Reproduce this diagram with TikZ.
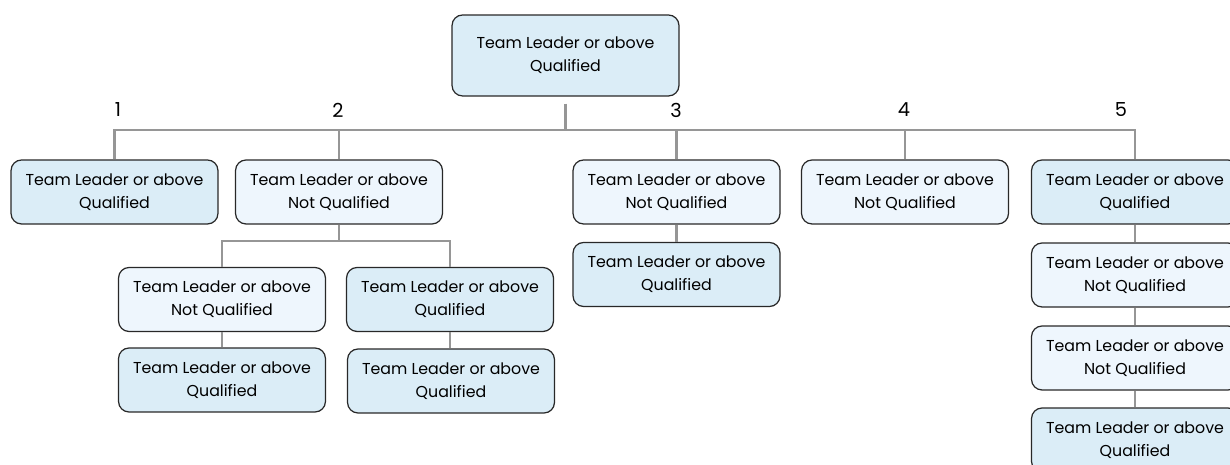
\documentclass[tikz,border=0pt]{standalone}
\usepackage{xcolor}
\usepackage{fontspec}
\setmainfont{Poppins}
\usepackage{tikz}
\definecolor{qualblue}{RGB}{219, 237, 247}
\definecolor{notqualblue}{RGB}{238, 246, 253}
\definecolor{boxline}{RGB}{40, 40, 40}
\definecolor{linkgray}{RGB}{150, 150, 150}

\begin{document}
\begin{tikzpicture}[x=0.02cm, y=-0.02cm,
    box/.style={draw=boxline, line width=0.7pt, rounded corners=6pt,
                minimum width=4.14cm, minimum height=1.28cm, inner sep=2pt,
                align=center, font=\fontsize{9}{13}\selectfont},
    qual/.style={box, fill=qualblue},
    notqual/.style={box, fill=notqualblue},
    link/.style={draw=linkgray, line width=1.3pt},
    num/.style={font=\fontsize{11}{13}\selectfont}]
  \useasboundingbox (0,0) rectangle (1230,465);

  % root
  \node[qual, minimum width=4.54cm, minimum height=1.62cm] (top) at (565.5,55.5)
    {Team Leader or above\\Qualified};

  % first row
  \node[qual]    (l1) at (114.5,192) {Team Leader or above\\Qualified};
  \node[notqual] (l2) at (339,192)   {Team Leader or above\\Not Qualified};
  \node[notqual] (l3) at (676.5,192) {Team Leader or above\\Not Qualified};
  \node[notqual] (l4) at (905,192)   {Team Leader or above\\Not Qualified};
  \node[qual]    (l5) at (1135,192)  {Team Leader or above\\Qualified};

  % under 2
  \node[notqual] (a1) at (222,299.5) {Team Leader or above\\Not Qualified};
  \node[qual]    (b1) at (450,299.5) {Team Leader or above\\Qualified};
  \node[qual]    (a2) at (222,380)   {Team Leader or above\\Qualified};
  \node[qual]    (b2) at (451,381)   {Team Leader or above\\Qualified};

  % under 3
  \node[qual] (c1) at (676.5,274.5) {Team Leader or above\\Qualified};

  % under 5
  \node[notqual] (e2) at (1135,275) {Team Leader or above\\Not Qualified};
  \node[notqual] (e3) at (1135,358) {Team Leader or above\\Not Qualified};
  \node[qual]    (e4) at (1135,440) {Team Leader or above\\Qualified};

  % branch numbers
  \node[num] (n1) at (118,110)  {1};
  \node[num] (n2) at (338,110)  {2};
  \node[num] (n3) at (676,110)  {3};
  \node[num] (n4) at (904,110)  {4};
  \node[num] (n5) at (1121,110) {5};

  % connectors
  \coordinate (bus) at (565.5,130);
  \coordinate (fork) at (339,241);
  \draw[link] ([yshift=-0.14cm]top.south) -- (bus);
  \draw[link] (l1.north) -- (l1.north |- bus) -- (l5.north |- bus) -- (l5.north);
  \foreach \n in {l2,l3,l4}
    \draw[link] (\n.north) -- (\n.north |- bus);
  \draw[link] (l2.south) -- (fork);
  \draw[link] (a1.north) -- (a1.north |- fork) -- (b1.north |- fork) -- (b1.north);
  \draw[link] (a1.south) -- (a2.north);
  \draw[link] (b1.south) -- (b1.south |- b2.north);
  \draw[link] (l3.south) -- (c1.north);
  \draw[link] (l5.south) -- (e2.north);
  \draw[link] (e2.south) -- (e3.north);
  \draw[link] (e3.south) -- (e4.north);
\end{tikzpicture}
\end{document}
